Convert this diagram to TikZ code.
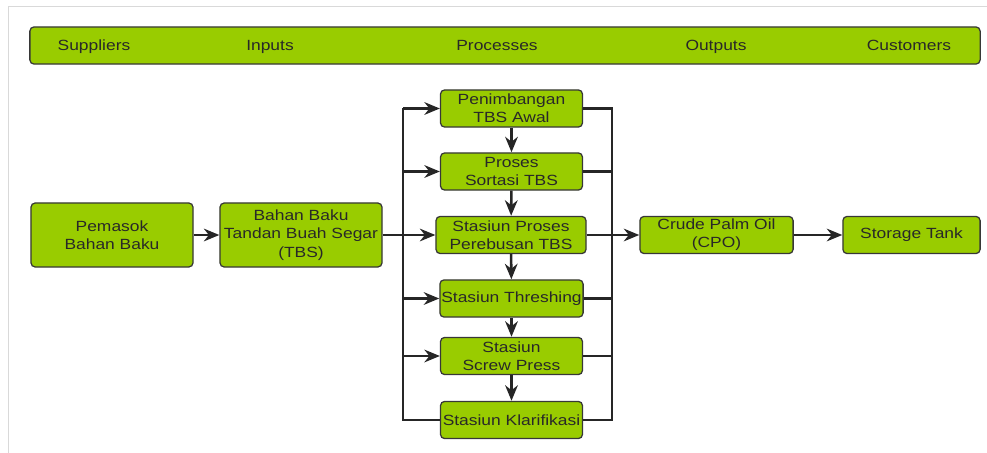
\documentclass[tikz,border=0pt]{standalone}
\usepackage{fontspec}
\setmainfont{Liberation Sans}[FakeStretch=1.18]
\usetikzlibrary{arrows.meta}
\definecolor{leaf}{RGB}{153,204,0}
\definecolor{rim}{RGB}{55,55,55}
\definecolor{ink}{RGB}{40,40,40}
\begin{document}
\begin{tikzpicture}[x=0.025cm, y=-0.025cm,
blk/.style={draw=rim, fill=leaf, rounded corners=3pt, line width=0.9pt, align=center,
text=ink, minimum width=4.05cm, minimum height=1.6cm, inner sep=1pt,
font=\fontsize{10.5}{13}\selectfont},
proc/.style={blk, minimum width=3.55cm, minimum height=0.93cm},
lbl/.style={text=ink, anchor=base, font=\fontsize{10.5}{13}\selectfont},
edge/.style={-{Stealth[length=11pt,width=9pt]}, line width=1.8pt, draw=black!85},
link/.style={line width=1.8pt, draw=black!85}
]
\useasboundingbox (0,0) rectangle (987,453);
\draw[black!15, line width=0.6pt] (8,453) -- (8,6) -- (987,6);

% header
\node[blk, minimum width=23.75cm, minimum height=0.93cm] (bar) at (505,45.5) {};
\node[lbl] (sup) at (94,51) {Suppliers};
\node[lbl] (inp) at (270,51) {Inputs};
\node[lbl] (prc) at (497,51) {Processes};
\node[lbl] (outp) at (716,51) {Outputs};
\node[lbl] (cust) at (909,51) {Customers};

\node[blk] (pemasok) at (112,235) {Pemasok\\Bahan Baku};
\node[blk] (tbs) at (301,235) {Bahan Baku\\Tandan Buah Segar\\(TBS)};
\node[proc] (timbang) at (511.5,108.5) {Penimbangan\\TBS Awal};
\node[proc] (sortasi) at (511.5,171.5) {Proses\\Sortasi TBS};
\node[proc, minimum width=3.75cm] (rebus) at (511,235) {Stasiun Proses\\Perebusan TBS};
\node[proc] (thresh) at (511.5,298.5) {Stasiun Threshing};
\node[proc] (press) at (511.5,356) {Stasiun\\Screw Press};
\node[proc] (klar) at (511.5,420) {Stasiun Klarifikasi};
\node[proc, minimum width=3.83cm] (cpo) at (716.5,235) {Crude Palm Oil\\(CPO)};
\node[proc, minimum width=3.43cm] (tank) at (911.5,235) {Storage Tank};
\coordinate (lbus) at (403,0);
\coordinate (rbus) at (612,0);

% left bus
\draw[link] (lbus |- timbang) -- (lbus |- klar) -- (klar.west);
\draw[edge] (lbus |- timbang) -- (timbang.west);
\draw[edge] (lbus |- sortasi) -- (sortasi.west);
\draw[edge] (lbus |- thresh) -- (thresh.west);
\draw[edge] (lbus |- press) -- (press.west);

% right bus
\draw[link] (timbang.east) -- (rbus |- timbang) -- (rbus |- klar) -- (klar.east);
\draw[link] (sortasi.east) -- (rbus |- sortasi);
\draw[link] (thresh.east) -- (rbus |- thresh);
\draw[link] (press.east) -- (rbus |- press);

\draw[edge] (timbang) -- (sortasi);
\draw[edge] (sortasi) -- (rebus);
\draw[edge] (rebus) -- (thresh);
\draw[edge] (thresh) -- (press);
\draw[edge] (press) -- (klar);

\draw[edge] (pemasok) -- (tbs);
\draw[edge] (tbs) -- (rebus);
\draw[edge] (rebus) -- (cpo);
\draw[edge] (cpo) -- (tank);
\end{tikzpicture}
\end{document}
